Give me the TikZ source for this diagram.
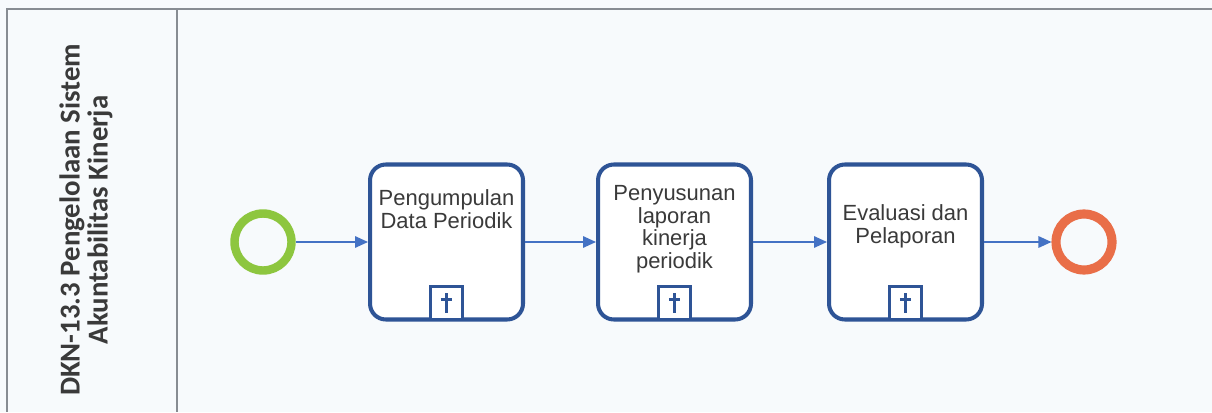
\documentclass[tikz,border=0pt]{standalone}
\usepackage{fontspec}
\setmainfont{Liberation Sans}
\newfontfamily\lanefont{Carlito}
\usepackage{xcolor}
\usetikzlibrary{positioning, arrows.meta}

\definecolor{taskblue}{RGB}{46,84,150}
\definecolor{flowblue}{RGB}{68,114,196}
\definecolor{startgreen}{RGB}{141,198,63}
\definecolor{endorange}{RGB}{233,110,72}
\definecolor{lanegray}{RGB}{135,140,146}
\definecolor{paper}{RGB}{247,250,252}
\definecolor{txtgray}{RGB}{58,58,58}

\begin{document}
\begin{tikzpicture}[
    x=0.02cm, y=-0.02cm,
    task/.style={draw=taskblue, line width=2.3pt, rounded corners=9pt, fill=white, minimum width=3.06cm, minimum height=3.1cm},
    tasktxt/.style={font=\fontsize{12.5}{12.8}\selectfont, text=txtgray, align=center, anchor=north, inner sep=0pt},
    subproc/.style={draw=taskblue, line width=1.7pt, fill=white, minimum width=0.64cm, minimum height=0.66cm, anchor=south, inner sep=0pt},
    startev/.style={circle, draw=startgreen, line width=4.8pt, minimum size=1.14cm, inner sep=0pt},
    endev/.style={circle, draw=endorange, line width=5.2pt, minimum size=1.12cm, inner sep=0pt},
    flow/.style={draw=flowblue, line width=0.9pt, -{Triangle[length=2.6mm, width=2.3mm]}},
    lane/.style={draw=lanegray, line width=0.8pt}
]
\useasboundingbox (0,0) rectangle (1212,412);
\fill[paper] (0,0) rectangle (1212,412);

% pool frame
\draw[lane] (1212,9) -- (7,9) -- (7,412);
\draw[lane] (177,9) -- (177,412);
\node[rotate=90, align=center, text=txtgray, font=\lanefont\bfseries\fontsize{16.4}{16}\selectfont] (lanename) at (86,220)
  {DKN-13.3 Pengelolaan Sistem\\Akuntabilitas Kinerja};

% events and subprocesses
\node[startev] (start) at (263,242) {};
\node[task] (t1) at (446.5,242) {};
\node[task] (t2) at (674.5,242) {};
\node[task] (t3) at (905.5,242) {};
\node[endev] (finish) at (1084,242) {};

\node[tasktxt] (t1txt) at ([yshift=-0.54cm]t1.north) {Pengumpulan\\Data Periodik};
\node[tasktxt] (t2txt) at ([yshift=-0.46cm]t2.north) {Penyusunan\\laporan\\kinerja\\periodik};
\node[tasktxt] (t3txt) at ([yshift=-0.84cm]t3.north) {Evaluasi dan\\Pelaporan};

% collapsed subprocess markers
\foreach \t in {t1,t2,t3} {
  \node[subproc] (\t mark) at ([yshift=0.4pt]\t.south) {};
  \draw[taskblue, line width=1.6pt] ([yshift=-4.8pt]\t mark.north) -- ([yshift=4.2pt]\t mark.south);
  \draw[taskblue, line width=1.6pt] ([xshift=-3.2pt,yshift=-8.2pt]\t mark.north) -- ([xshift=3.2pt,yshift=-8.2pt]\t mark.north);
}

% sequence flows
\draw[flow] (start) -- (t1);
\draw[flow] (t1) -- (t2);
\draw[flow] (t2) -- (t3);
\draw[flow] (t3) -- (finish);

\end{tikzpicture}
\end{document}
